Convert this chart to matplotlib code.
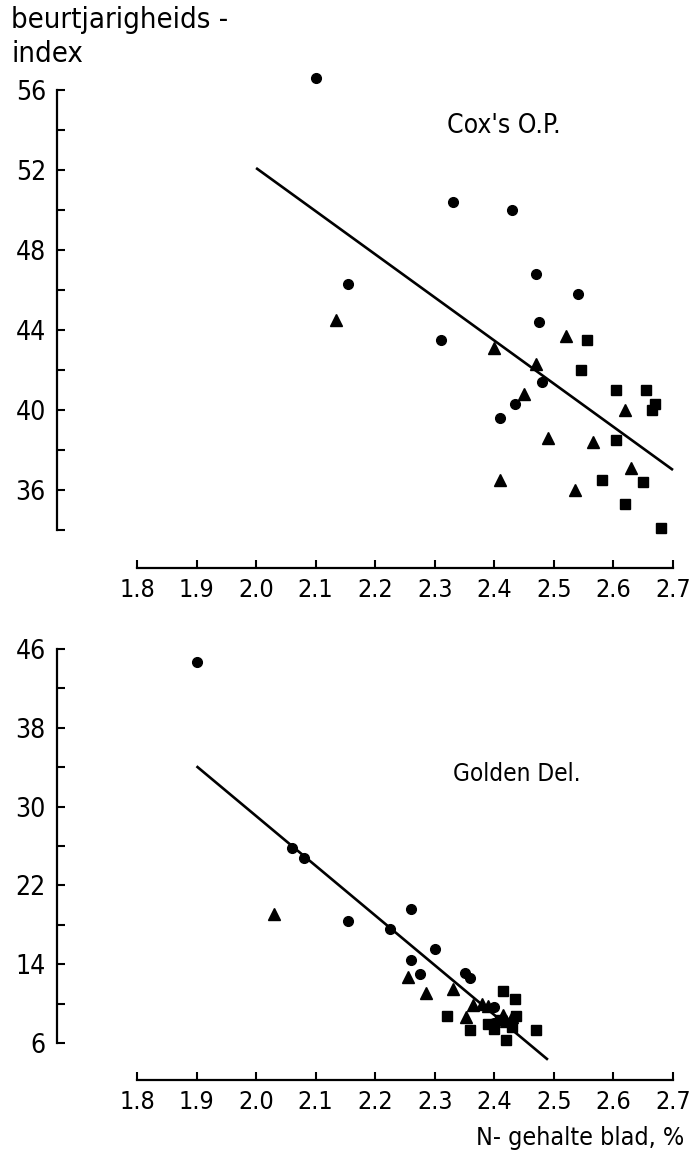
import matplotlib
matplotlib.use("Agg")
import matplotlib.pyplot as plt
from matplotlib.ticker import FixedLocator

# ---------------- data ----------------
x_ticks = [1.8, 1.9, 2.0, 2.1, 2.2, 2.3, 2.4, 2.5, 2.6, 2.7]
x_tick_labels = ["1.8", "1.9", "2.0", "2.1", "2.2", "2.3", "2.4", "2.5", "2.6", "2.7"]

# Cox's O.P.
cox_circle_x = [2.10, 2.155, 2.33, 2.43, 2.47, 2.54, 2.475, 2.31, 2.48, 2.435, 2.41]
cox_circle_y = [56.6, 46.3, 50.4, 50.0, 46.8, 45.8, 44.4, 43.5, 41.4, 40.3, 39.6]
cox_tri_x = [2.135, 2.52, 2.40, 2.47, 2.45, 2.62, 2.49, 2.565, 2.63, 2.41, 2.535]
cox_tri_y = [44.5, 43.7, 43.1, 42.3, 40.8, 40.0, 38.6, 38.4, 37.1, 36.5, 36.0]
cox_sq_x = [2.555, 2.545, 2.605, 2.655, 2.67, 2.665, 2.605, 2.58, 2.65, 2.62, 2.68]
cox_sq_y = [43.5, 42.0, 41.0, 41.0, 40.3, 40.0, 38.5, 36.5, 36.4, 35.3, 34.1]
cox_line_x = [2.0, 2.7]
cox_line_y = [52.1, 37.0]
cox_major = [36, 40, 44, 48, 52, 56]
cox_minor = [34, 38, 42, 46, 50, 54]

# Golden Del.
gd_circle_x = [1.90, 2.06, 2.08, 2.155, 2.26, 2.225, 2.30, 2.26, 2.275, 2.35, 2.36, 2.40, 2.40]
gd_circle_y = [44.7, 25.8, 24.8, 18.4, 19.6, 17.6, 15.5, 14.4, 13.0, 13.1, 12.6, 9.7, 8.0]
gd_tri_x = [2.03, 2.255, 2.285, 2.33, 2.365, 2.38, 2.39, 2.352, 2.415, 2.42, 2.43]
gd_tri_y = [19.1, 12.7, 11.1, 11.5, 9.9, 10.0, 9.8, 8.6, 8.8, 8.2, 8.6]
gd_sq_x = [2.32, 2.36, 2.415, 2.435, 2.437, 2.47, 2.40, 2.41, 2.42, 2.43, 2.39]
gd_sq_y = [8.7, 7.3, 11.3, 10.5, 8.7, 7.3, 7.4, 8.3, 6.3, 7.6, 7.9]
gd_line_x = [1.9, 2.49]
gd_line_y = [34.1, 4.3]
gd_major = [6, 14, 22, 30, 38, 46]
gd_minor = [10, 18, 26, 34, 42]

# ---------------- style ----------------
plt.rcParams['font.family'] = ['DejaVu Sans']
W, H = 690, 1156
fig = plt.figure(figsize=(W / 100, H / 100), dpi=100)
FS = 18
TXT = dict(fontstretch='condensed')


def px_axes(left, right, top, bottom):
    return fig.add_axes([left / W, 1 - bottom / H, (right - left) / W, (bottom - top) / H])


def style(ax, ylim, ybounds, major, minor):
    ax.set_xlim(1.8 - 80 / 596, 2.7 + 10 / 596)
    ax.set_ylim(*ylim)
    for s in ['top', 'right']:
        ax.spines[s].set_visible(False)
    ax.spines['left'].set_bounds(*ybounds)
    ax.spines['bottom'].set_bounds(1.8, 2.7)
    for s in ['left', 'bottom']:
        ax.spines[s].set_linewidth(1.6)
    ax.xaxis.set_major_locator(FixedLocator(x_ticks))
    ax.set_xticklabels(x_tick_labels, fontsize=FS, **TXT)
    ax.yaxis.set_major_locator(FixedLocator(major))
    ax.yaxis.set_minor_locator(FixedLocator(minor))
    ax.set_yticklabels([str(v) for v in major], fontsize=FS + 1, **TXT)
    ax.tick_params(axis='x', direction='in', length=6, width=1.5, pad=7)
    ax.tick_params(axis='y', which='both', direction='in', length=6, width=1.5, pad=8)
    ax.set_facecolor('none')


def draw(ax, cx, cy, tx, ty, sx, sy, lx, ly):
    ax.plot(lx, ly, color='black', lw=1.9, solid_capstyle='butt', zorder=2)
    kw = dict(linestyle='none', color='black', clip_on=False, zorder=3)
    ax.plot(cx, cy, marker='o', markersize=7, **kw)
    ax.plot(tx, ty, marker='^', markersize=8.5, **kw)
    ax.plot(sx, sy, marker='s', markersize=7, **kw)


# top panel: y 56 -> py 90, 20 px/unit, x-axis at py 568
ax1 = px_axes(57, 683, 85, 568)
style(ax1, (56 - (568 - 90) / 20, 56 + 5 / 20), (34, 56), cox_major, cox_minor)
draw(ax1, cox_circle_x, cox_circle_y, cox_tri_x, cox_tri_y, cox_sq_x, cox_sq_y,
     cox_line_x, cox_line_y)
ax1.text(2.32, 54.2, "Cox's O.P.", fontsize=19, ha='left', va='center', **TXT)

# bottom panel: y 46 -> py 649, 9.85 px/unit, x-axis at py 1080
ax2 = px_axes(57, 683, 640, 1080)
style(ax2, (46 - (1080 - 649) / 9.85, 46 + 9 / 9.85), (6, 46), gd_major, gd_minor)
draw(ax2, gd_circle_x, gd_circle_y, gd_tri_x, gd_tri_y, gd_sq_x, gd_sq_y,
     gd_line_x, gd_line_y)
ax2.text(2.33, 33.3, "Golden Del.", fontsize=17.5, ha='left', va='center', **TXT)

fig.text(11 / W, 1 - 20 / H, "beurtjarigheids -", fontsize=21, ha='left', va='center', **TXT)
fig.text(11 / W, 1 - 54 / H, "index", fontsize=21, ha='left', va='center', **TXT)
fig.text(684 / W, 1 - 1138 / H, "N- gehalte blad, %", fontsize=FS, ha='right', va='center', **TXT)

fig.savefig("out.png", dpi=100, facecolor='white')
